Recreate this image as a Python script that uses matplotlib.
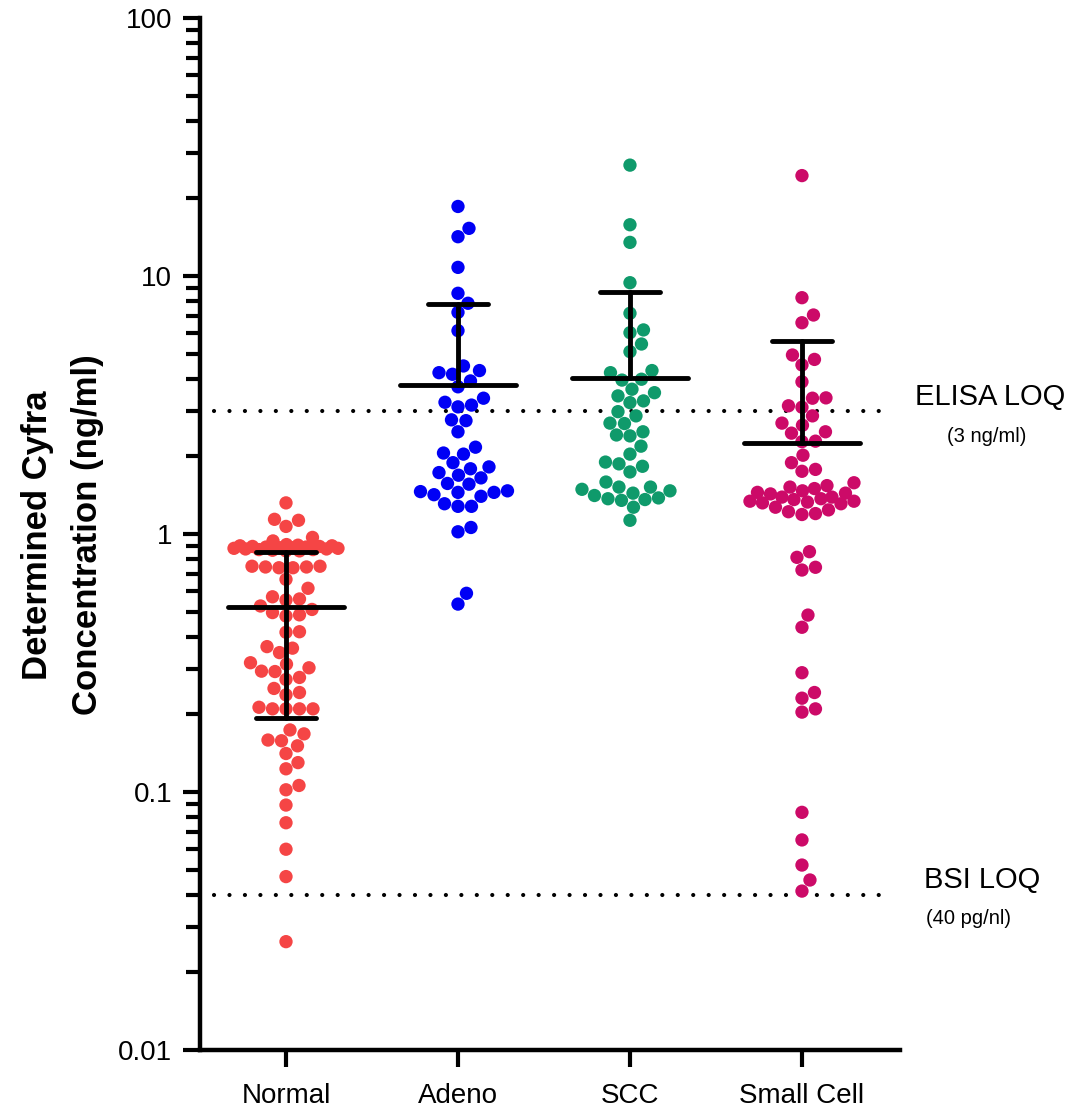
import numpy as np
import matplotlib
matplotlib.use("Agg")
from matplotlib import pyplot as plt

plt.rcParams['font.family'] = ['Liberation Sans', 'DejaVu Sans']

# %% data
groups = ['Normal', 'Adeno', 'SCC', 'Small Cell']
colors = ['#F54545', '#0000F5', '#0F9A6B', '#CC0A68']

normal = [1.32, 1.13, 1.14, 1.07, 0.97, 0.94, 0.91,
          0.86, 0.86, 0.865, 0.87, 0.87, 0.875, 0.875, 0.88, 0.88, 0.885,
          0.885, 0.89, 0.89, 0.895, 0.895, 0.90, 0.90, 0.905,
          0.75, 0.745, 0.74, 0.74, 0.745, 0.75,
          0.667, 0.616, 0.571, 0.56, 0.555, 0.526, 0.51, 0.496, 0.481, 0.486,
          0.418, 0.416, 0.366, 0.361, 0.347, 0.317, 0.313, 0.303, 0.294,
          0.293, 0.278, 0.273, 0.252, 0.243, 0.238, 0.21, 0.21, 0.21, 0.21,
          0.213, 0.174, 0.168, 0.159, 0.158, 0.151, 0.141, 0.13, 0.123,
          0.106, 0.102, 0.089, 0.076, 0.06, 0.047, 0.0263]
adeno = [18.6, 15.3, 14.2, 10.8, 8.57, 7.84, 7.23, 6.14, 4.48, 4.3, 4.16,
         4.22, 3.92, 3.72, 3.36, 3.24, 3.16, 3.11, 2.77, 2.75, 2.49, 2.17,
         2.06, 2.04, 1.89, 1.79, 1.82, 1.69, 1.73, 1.65, 1.57, 1.56, 1.47,
         1.45, 1.42, 1.45, 1.46, 1.40, 1.31, 1.28, 1.28, 1.06, 1.02, 0.589,
         0.535]
scc = [26.9, 15.8, 13.5, 9.42, 7.17, 6.18, 6.03, 5.45, 5.09, 4.3, 4.22,
       3.98, 3.95, 3.64, 3.53, 3.43, 3.28, 3.23, 2.98, 2.87, 2.69, 2.68,
       2.49, 2.42, 2.40, 2.19, 2.04, 1.90, 1.87, 1.83, 1.74, 1.59, 1.52,
       1.49, 1.52, 1.47, 1.44, 1.41, 1.38, 1.37, 1.36, 1.35, 1.27, 1.13]
small_cell = [24.5, 8.24, 7.06, 6.59, 4.75, 4.94, 4.52, 3.89, 3.37, 3.36,
              3.14, 3.10, 2.87, 2.64, 2.69, 2.49, 2.46, 2.29, 2.28, 2.02,
              1.89, 1.75, 1.78, 1.54, 1.50, 1.58, 1.52, 1.45, 1.47, 1.44,
              1.43, 1.39, 1.37, 1.39, 1.36, 1.34, 1.32, 1.34, 1.33, 1.31,
              1.27, 1.24, 1.22, 1.20, 1.19, 0.854, 0.812, 0.725, 0.743,
              0.485, 0.435, 0.29, 0.243, 0.231, 0.21, 0.204, 0.0834, 0.0652,
              0.0521, 0.0456, 0.0413]
values = [normal, adeno, scc, small_cell]

# summary bars as drawn (mean, lower, upper)
centers = [0.523, 3.78, 4.02, 2.26]
lowers = [0.194, np.nan, np.nan, np.nan]
uppers = [0.854, 7.77, 8.69, 5.61]

loq_values = [3.0, 0.04]
loq_names = ['ELISA LOQ', 'BSI LOQ']
loq_units = ['(3 ng/ml)', '(40 pg/nl)']

yticks = [0.01, 0.1, 1, 10, 100]
ytick_labels = ['0.01', '0.1', '1', '10', '100']

# %% swarm layout in pixel space
PX_PER_DECADE = 258.0
PX_PER_UNIT = 172.0


def swarm_offsets(vals, d=13.5, max_w=52):
    ys = np.log10(vals) * PX_PER_DECADE
    xs = np.zeros(len(ys))
    grid = np.arange(0, max_w + 0.25, 0.5)
    grid = np.column_stack([grid, -grid]).ravel()[1:]
    placed_x, placed_y = [], []
    for i in np.argsort(ys, kind='stable'):
        if placed_x:
            px = np.array(placed_x)
            py = np.array(placed_y)
            near = np.abs(py - ys[i]) < d
            if near.any():
                dist = np.sqrt((grid[:, None] - px[near]) ** 2
                               + (ys[i] - py[near]) ** 2).min(axis=1)
                ok = np.where(dist >= d)[0]
                j = ok[0] if len(ok) else np.argmax(dist)
                xs[i] = grid[j]
        placed_x.append(xs[i])
        placed_y.append(ys[i])
    return xs / PX_PER_UNIT


# %%
fig = plt.figure(figsize=(10.84, 11.11), dpi=100)
ax = fig.add_axes([200 / 1084, 1 - 1050 / 1111, 700 / 1084, 1032 / 1111])

for k, vals in enumerate(values):
    vals = np.array(vals)
    ax.scatter(k + swarm_offsets(vals), vals, s=92, color=colors[k],
               edgecolors='none', zorder=2)

for k in range(len(groups)):
    kw = dict(color='k', lw=3.5, solid_capstyle='round', zorder=3)
    ax.plot([k - 0.337, k + 0.337], [centers[k]] * 2, **kw)
    ax.plot([k, k], [centers[k], uppers[k]], **kw)
    ax.plot([k - 0.172, k + 0.172], [uppers[k]] * 2, **kw)
    if not np.isnan(lowers[k]):
        ax.plot([k, k], [centers[k], lowers[k]], **kw)
        ax.plot([k - 0.172, k + 0.172], [lowers[k]] * 2, **kw)

for v in loq_values:
    ax.plot([-0.42, 3.47], [v, v], color='k', lw=3.0,
            linestyle=(0, (0.01, 3.7)), dash_capstyle='round', zorder=1)

fig.text(990 / 1084, 1 - 397 / 1111, loq_names[0], fontsize=21,
         ha='center', va='center')
fig.text(987 / 1084, 1 - 437 / 1111, loq_units[0], fontsize=14.5,
         ha='center', va='center')
fig.text(982 / 1084, 1 - 880 / 1111, loq_names[1], fontsize=21,
         ha='center', va='center')
fig.text(968 / 1084, 1 - 918 / 1111, loq_units[1], fontsize=14.5,
         ha='center', va='center')

ax.set_yscale('log')
ax.set_ylim(0.01, 100)
ax.set_xlim(-0.5, 3.57)
ax.set_yticks(yticks)
ax.set_yticklabels(ytick_labels)
ax.set_xticks(range(len(groups)))
ax.set_xticklabels(groups)
ax.tick_params(axis='both', which='major', length=12, width=3,
               labelsize=20, pad=8)
ax.tick_params(axis='y', which='minor', length=10, width=3)
ax.tick_params(axis='x', pad=12)

for side in ['top', 'right']:
    ax.spines[side].set_visible(False)
for side in ['left', 'bottom']:
    ax.spines[side].set_linewidth(3.2)

fig.text(38 / 1084, 1 - 535 / 1111, 'Determined Cyfra', rotation=90,
         fontsize=25, fontweight='bold', ha='center', va='center')
fig.text(88 / 1084, 1 - 535 / 1111, 'Concentration (ng/ml)', rotation=90,
         fontsize=25, fontweight='bold', ha='center', va='center')

fig.savefig('out.png', dpi=100)
plt.close(fig)
